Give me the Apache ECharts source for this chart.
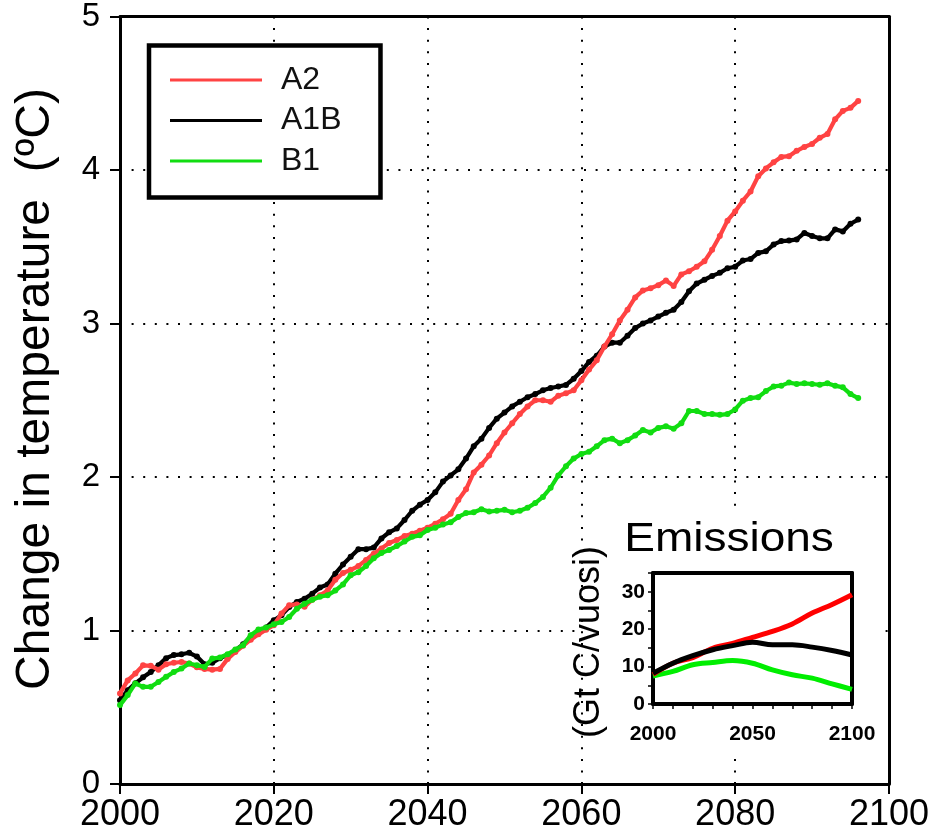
<!DOCTYPE html>
<html>
<head>
<meta charset="utf-8">
<title>Change in temperature</title>
<script src="https://cdn.jsdelivr.net/npm/echarts/dist/echarts.min.js"></script>
<style>
  html, body { margin: 0; padding: 0; background: #fff; }
  #chart { width: 932px; height: 835px; }
</style>
</head>
<body>
<div id="chart"></div>
<script>
// Projected warming per scenario, yearly from 2000 (°C)
const firstYear = 2000;
const scenarioNames = ['A2', 'A1B', 'B1'];

const tempA2 = [
  0.59, 0.675, 0.72, 0.773, 0.77, 0.745, 0.78, 0.79, 0.795, 0.785,
  0.76, 0.75, 0.745, 0.75, 0.815, 0.86, 0.9, 0.94, 0.975, 1.005,
  1.035, 1.11, 1.165, 1.17, 1.155, 1.2, 1.23, 1.26, 1.33, 1.375,
  1.395, 1.42, 1.46, 1.5, 1.535, 1.57, 1.59, 1.615, 1.63, 1.65,
  1.67, 1.695, 1.725, 1.76, 1.85, 1.92, 2.03, 2.08, 2.14, 2.22,
  2.29, 2.35, 2.41, 2.46, 2.5, 2.5, 2.49, 2.53, 2.545, 2.565,
  2.63, 2.7, 2.76, 2.85, 2.93, 3.02, 3.09, 3.17, 3.215, 3.23,
  3.25, 3.28, 3.245, 3.32, 3.34, 3.37, 3.405, 3.48, 3.57, 3.67,
  3.73, 3.8, 3.86, 3.96, 4.01, 4.05, 4.085, 4.09, 4.125, 4.15,
  4.17, 4.21, 4.235, 4.33, 4.385, 4.405, 4.45
];

const tempA1B = [
  0.546, 0.61, 0.656, 0.695, 0.73, 0.773, 0.82, 0.84, 0.845, 0.855,
  0.83, 0.78, 0.79, 0.82, 0.84, 0.87, 0.91, 0.96, 0.99, 1.02,
  1.066, 1.1, 1.153, 1.186, 1.207, 1.24, 1.28, 1.3, 1.37, 1.43,
  1.48, 1.53, 1.53, 1.54, 1.6, 1.64, 1.665, 1.72, 1.78, 1.82,
  1.85, 1.9, 1.97, 2.01, 2.05, 2.12, 2.2, 2.25, 2.32, 2.38,
  2.42, 2.46, 2.49, 2.52, 2.54, 2.565, 2.58, 2.59, 2.6, 2.64,
  2.69, 2.75, 2.79, 2.85, 2.875, 2.875, 2.92, 2.97, 3.0, 3.02,
  3.045, 3.07, 3.09, 3.14, 3.21, 3.26, 3.285, 3.31, 3.33, 3.36,
  3.37, 3.41, 3.42, 3.46, 3.47, 3.515, 3.537, 3.54, 3.548, 3.59,
  3.57, 3.555, 3.555, 3.613, 3.6, 3.65, 3.677
];

const tempB1 = [
  0.514, 0.579, 0.655, 0.633, 0.633, 0.665, 0.698, 0.73, 0.752, 0.785,
  0.774, 0.763, 0.817, 0.824, 0.845, 0.876, 0.904, 0.969, 1.006, 1.019,
  1.04, 1.055, 1.088, 1.142, 1.175, 1.2, 1.22, 1.23, 1.26, 1.3,
  1.36, 1.38, 1.42, 1.47, 1.505, 1.525, 1.55, 1.58, 1.61, 1.62,
  1.655, 1.67, 1.69, 1.705, 1.74, 1.765, 1.77, 1.79, 1.775, 1.78,
  1.786, 1.77, 1.78, 1.8, 1.83, 1.87, 1.93, 2.01, 2.07, 2.12,
  2.15, 2.165, 2.2, 2.24, 2.25, 2.22, 2.24, 2.27, 2.306, 2.29,
  2.32, 2.33, 2.315, 2.35, 2.43, 2.43, 2.41, 2.41, 2.405, 2.41,
  2.44, 2.497, 2.514, 2.52, 2.56, 2.59, 2.595, 2.615, 2.606, 2.61,
  2.606, 2.601, 2.61, 2.595, 2.584, 2.54, 2.514
];

// Carbon emissions per scenario, every 10 years (Gt C / year)
const emissionYears = [2000, 2010, 2020, 2030, 2040, 2050, 2060, 2070, 2080, 2090, 2100];
const emisA2  = [7.9, 10.9, 12.4, 14.9, 16.2, 17.8, 19.4, 21.4, 24.3, 26.6, 29.2];
const emisA1B = [8.2, 10.9, 12.9, 14.5, 15.6, 16.5, 15.8, 15.8, 15.2, 14.3, 13.1];
const emisB1  = [7.5, 8.7, 10.5, 11.1, 11.6, 10.9, 9.1, 7.8, 6.9, 5.4, 3.9];

// Axis tick values
const mainYearTicks = [2000, 2020, 2040, 2060, 2080, 2100];
const mainTempTicks = [0, 1, 2, 3, 4, 5];
const insetYearLabels = [2000, 2050, 2100];
const insetEmisLabels = [0, 10, 20, 30];

const COLORS = { A2: '#ff4343', A1B: '#000000', B1: '#11dd11' };
const INSET_COLORS = { A2: '#ff0000', A1B: '#000000', B1: '#00ee00' };

const FONT = "'Liberation Sans', Arial, Helvetica, sans-serif";
const THIN_FONT = "'Liberation Sans', Arial, sans-serif";

function pairs(values) {
  return values.map((v, i) => [firstYear + i, v]);
}
function zipPairs(xs, ys) {
  return xs.map((x, i) => [x, ys[i]]);
}

const dotted = { type: [2, 9.6], color: '#000', width: 2, cap: 'butt' };

// Plain frame edge: a bare axis line that stays on its own side
function frameLine(width) {
  return { show: true, onZero: false, lineStyle: { color: '#000', width: width } };
}

function mainSeries(name, values, z) {
  return {
    name: name,
    type: 'line',
    xAxisIndex: 0,
    yAxisIndex: 0,
    data: pairs(values),
    z: z,
    symbol: 'circle',
    symbolSize: 6,
    showSymbol: true,
    lineStyle: { color: COLORS[name], width: 4.2 },
    itemStyle: { color: COLORS[name], borderWidth: 0 },
    emphasis: { disabled: true }
  };
}

function insetSeries(name, values, z) {
  return {
    name: name + ' emissions',
    type: 'line',
    xAxisIndex: 2,
    yAxisIndex: 2,
    data: zipPairs(emissionYears, values),
    smooth: 0.35,
    showSymbol: false,
    z: z,
    lineStyle: { color: INSET_COLORS[name], width: 5 },
    itemStyle: { color: INSET_COLORS[name] },
    emphasis: { disabled: true }
  };
}

const chart = echarts.init(document.getElementById('chart'), null, { renderer: 'canvas' });

const option = {
  animation: false,
  backgroundColor: '#ffffff',
  grid: [
    { left: 120, right: 43, top: 15, bottom: 51 },
    { left: 653, right: 80, top: 573, bottom: 131, z: 6 }
  ],
  legend: {
    data: scenarioNames,
    orient: 'vertical',
    left: 149,
    top: 45.5,
    selectedMode: false,
    backgroundColor: '#ffffff',
    borderColor: '#000000',
    borderWidth: 4.5,
    padding: [18.5, 39, 20.5, 21],
    itemWidth: 92,
    itemHeight: 3,
    itemGap: 8.5,
    icon: 'rect',
    z: 10,
    textStyle: {
      fontFamily: THIN_FONT,
      fontSize: 32,
      lineHeight: 30,
      color: '#111',
      padding: [0, 0, 0, 14]
    }
  },
  xAxis: [
    {
      gridIndex: 0, type: 'value', min: 2000, max: 2100, interval: 20,
      axisLine: frameLine(3),
      axisTick: { show: true, length: 10, lineStyle: { color: '#000', width: 2 } },
      axisLabel: {
        fontFamily: THIN_FONT, fontSize: 36, color: '#000', margin: 13,
        formatter: v => (mainYearTicks.includes(v) ? String(v) : '')
      },
      splitLine: { show: true, lineStyle: dotted }
    },
    {
      gridIndex: 0, type: 'value', min: 2000, max: 2100, position: 'top',
      axisLine: frameLine(3),
      axisTick: { show: false }, axisLabel: { show: false }, splitLine: { show: false }
    },
    {
      gridIndex: 1, type: 'value', min: 2000, max: 2100, interval: 10, z: 6,
      axisLine: frameLine(4),
      axisTick: { show: true, length: 5, lineStyle: { color: '#000', width: 1.5 } },
      axisLabel: {
        fontFamily: FONT, fontSize: 21, fontWeight: 'bold', color: '#000', margin: 20,
        formatter: v => (insetYearLabels.includes(v) ? String(v) : '')
      },
      splitLine: { show: false }
    },
    {
      gridIndex: 1, type: 'value', min: 2000, max: 2100, position: 'top', z: 6,
      axisLine: frameLine(4),
      axisTick: { show: false }, axisLabel: { show: false }, splitLine: { show: false }
    }
  ],
  yAxis: [
    {
      gridIndex: 0, type: 'value', min: 0, max: 5, interval: 1,
      axisLine: frameLine(3),
      axisTick: { show: true, length: 10, lineStyle: { color: '#000', width: 2 } },
      axisLabel: {
        fontFamily: THIN_FONT, fontSize: 33, color: '#000', margin: 20,
        formatter: v => (mainTempTicks.includes(v) ? String(v) : '')
      },
      splitLine: { show: true, lineStyle: dotted }
    },
    {
      gridIndex: 0, type: 'value', min: 0, max: 5, position: 'right',
      axisLine: frameLine(3),
      axisTick: { show: false }, axisLabel: { show: false }, splitLine: { show: false }
    },
    {
      gridIndex: 1, type: 'value', min: 0, max: 35, interval: 5, z: 6,
      axisLine: frameLine(4),
      axisTick: { show: true, length: 5, lineStyle: { color: '#000', width: 1.5 } },
      axisLabel: {
        fontFamily: FONT, fontSize: 21, fontWeight: 'bold', color: '#000', margin: 8,
        formatter: v => (insetEmisLabels.includes(v) ? String(v) : '')
      },
      splitLine: { show: false }
    },
    {
      gridIndex: 1, type: 'value', min: 0, max: 35, position: 'right', z: 6,
      axisLine: frameLine(4),
      axisTick: { show: false }, axisLabel: { show: false }, splitLine: { show: false }
    }
  ],
  graphic: [
    // white panel behind the emissions inset
    {
      type: 'rect', z: 5, silent: true,
      shape: { x: 584, y: 512, width: 298, height: 240 },
      style: { fill: '#ffffff' }
    },
    {
      type: 'text', z: 7, silent: true,
      x: 729, y: 540, scaleX: 1.15,
      style: {
        text: 'Emissions', fontFamily: FONT, fontSize: 40,
        fill: '#000', align: 'center', verticalAlign: 'middle'
      }
    },
    {
      type: 'text', z: 7, silent: true,
      x: 589, y: 642, rotation: Math.PI / 2,
      style: {
        text: '(Gt C/vuosi)', fontFamily: FONT, fontSize: 36,
        fill: '#000', align: 'center', verticalAlign: 'middle'
      }
    },
    {
      type: 'text', z: 7, silent: true,
      x: 36, y: 389, rotation: Math.PI / 2,
      style: {
        text: 'Change in temperature  (\u00baC)', fontFamily: FONT, fontSize: 48,
        fill: '#000', align: 'center', verticalAlign: 'middle'
      }
    }
  ],
  series: [
    mainSeries('A1B', tempA1B, 2),
    mainSeries('A2', tempA2, 3),
    mainSeries('B1', tempB1, 4),
    insetSeries('B1', emisB1, 7),
    insetSeries('A2', emisA2, 8),
    insetSeries('A1B', emisA1B, 9)
  ]
};

chart.setOption(option);
</script>
</body>
</html>
